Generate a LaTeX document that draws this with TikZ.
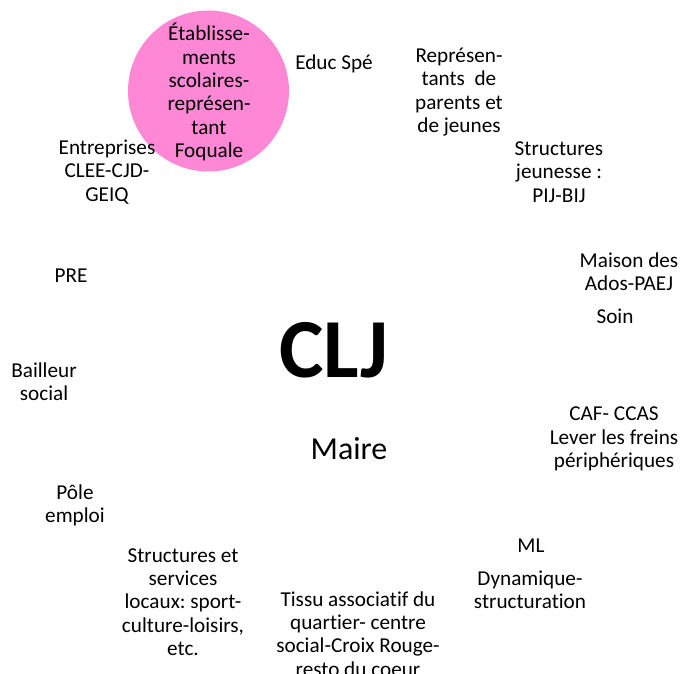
\documentclass[tikz,border=0pt]{standalone}
\usepackage{fontspec}
\setmainfont{Carlito}[Ligatures=NoCommon]
\frenchspacing
\definecolor{pinkc}{RGB}{255,136,214}
\tikzset{
  lbl/.style={align=center, inner sep=0pt, font=\fontsize{21.2}{23.3}\selectfont},
}
\begin{document}
\begin{tikzpicture}[x=1pt,y=-1pt]
\clip (0,0) rectangle (681,674);
\fill[white] (0,0) rectangle (681,674);
\fill[pinkc] (208.5,91) circle (80.5);
\node[lbl] (etab) at (209,92) {Établisse-\\ments\\scolaires-\\représen-\\tant\\Foquale};
\node[lbl] (educ) at (334,64) {Educ Spé};
\node[lbl] (rep) at (459,92) {Représen-\\tants~ de\\parents et\\de jeunes};
\node[lbl] (sj) at (559,172) {Structures\\jeunesse :\\PIJ-BIJ};
\node[lbl] (ent) at (107,172) {Entreprises\\CLEE-CJD-\\GEIQ};
\node[lbl] (pre) at (71,276) {PRE};
\node[lbl] (mda) at (629,272) {Maison des\\Ados-PAEJ};
\node[lbl] (soin) at (615,316) {Soin};
\node[lbl] (bail) at (44,382) {Bailleur\\social};
\node[lbl] (caf) at (614,439) {CAF- CCAS\\Lever les freins\\périphériques};
\node[lbl] (pole) at (75,505) {Pôle\\emploi};
\node[lbl] (ssl) at (183,602) {Structures et\\services\\locaux: sport-\\culture-loisirs,\\etc.};
\node[lbl] (tissu) at (358,634) {Tissu associatif du\\quartier- centre\\social-Croix Rouge-\\resto du coeur};
\node[lbl] (ml) at (531,546) {ML};
\node[lbl] (dyn) at (530,590) {Dynamique-\\structuration};
\node[inner sep=0pt, font=\fontsize{84}{90}\selectfont\bfseries] (clj) at (334,350) {CLJ};
\node[inner sep=0pt, font=\fontsize{32}{38}\selectfont] (maire) at (349,449) {Maire};
\end{tikzpicture}
\end{document}
